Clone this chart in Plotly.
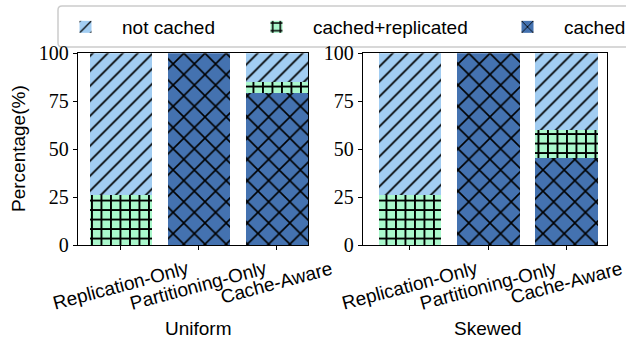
import plotly.graph_objects as go

# Share of data per strategy, stacked bottom -> top: cached, cached+replicated, not cached
categories = ["Replication-Only", "Partitioning-Only", "Cache-Aware"]
positions = [0, 1, 2]
uniform_cached = [0, 100, 79]
uniform_replicated = [26, 0, 6]
uniform_not_cached = [74, 0, 15]
skewed_cached = [0, 100, 45]
skewed_replicated = [26, 0, 15]
skewed_not_cached = [74, 0, 40]
y_ticks = [0, 25, 50, 75, 100]
panel_titles = ["Uniform", "Skewed"]

C_NOT = "#a2cdf2"
C_REP = "#aaf8cc"
C_CACHED = "#4472b0"
SERIF = "Liberation Serif"
SANS = "Liberation Sans"
W, H = 626, 344

styles = {
    "cached": dict(color=C_CACHED, shape="x", size=15, solidity=0.2),
    "cached+replicated": dict(color=C_REP, shape="+", size=9.5, solidity=0.36),
    "not cached": dict(color=C_NOT, shape="/", size=10.6, solidity=0.16),
}
# each series gets its own legend so the entries can be spaced freely
legend_of = {"not cached": "legend", "cached+replicated": "legend2", "cached": "legend3"}
legend_text_x = {"legend": 123, "legend2": 314, "legend3": 565}

fig = go.Figure()
panels = [
    ("x", "y", [("cached", uniform_cached), ("cached+replicated", uniform_replicated), ("not cached", uniform_not_cached)]),
    ("x2", "y2", [("cached", skewed_cached), ("cached+replicated", skewed_replicated), ("not cached", skewed_not_cached)]),
]
for pi, (xa, ya, series) in enumerate(panels):
    for name, vals in series:
        s = styles[name]
        fig.add_trace(go.Bar(
            x=positions, y=vals, name=name, xaxis=xa, yaxis=ya, width=0.8,
            showlegend=(pi == 0), legend=legend_of[name],
            marker=dict(
                color=s["color"], line=dict(width=0),
                pattern=dict(shape=s["shape"], size=s["size"], solidity=s["solidity"],
                             fgcolor="black", bgcolor=s["color"], fgopacity=1),
            ),
        ))

y_dom = [1 - 245 / H, 1 - 53.3 / H]
axis_common = dict(showline=True, linecolor="black", linewidth=1, mirror=True,
                   ticks="outside", ticklen=4, tickcolor="black", showgrid=False, zeroline=False)

ITEM_W = 63
legend_common = dict(orientation="h", xref="container", yref="container", y=1 - 8 / H,
                     xanchor="left", yanchor="top", borderwidth=0, bgcolor="rgba(0,0,0,0)",
                     font=dict(family=SANS, size=19, color="black"), itemwidth=ITEM_W)
legends = {key: dict(x=(tx - ITEM_W - 11) / W, **legend_common) for key, tx in legend_text_x.items()}

fig.update_layout(
    width=W, height=H, margin=dict(l=0, r=0, t=0, b=0, autoexpand=False),
    plot_bgcolor="white", paper_bgcolor="white", barmode="stack", bargap=0,
    xaxis=dict(domain=[77.7 / W, 308 / W], range=[-0.55, 2.4], tickvals=positions,
               showticklabels=False, **axis_common),
    xaxis2=dict(domain=[362.7 / W, 607.3 / W], range=[-0.6, 2.52], tickvals=positions,
                showticklabels=False, anchor="y2", **axis_common),
    yaxis=dict(domain=y_dom, range=[0, 100], tickvals=y_ticks,
               tickfont=dict(family=SERIF, size=20, color="black"), **axis_common),
    yaxis2=dict(domain=y_dom, range=[0, 100], tickvals=y_ticks, anchor="x2",
                tickfont=dict(family=SERIF, size=20, color="black"), **axis_common),
    legend=legends["legend"], legend2=legends["legend2"], legend3=legends["legend3"],
)

# rounded frame around the legend row
x0, x1 = 58 / W, 640 / W
y0, y1 = 1 - 47 / H, 1 - 6 / H
rx, ry = 4 / W, 4 / H
frame = (f"M{x0 + rx},{y1} L{x1 - rx},{y1} Q{x1},{y1} {x1},{y1 - ry} L{x1},{y0 + ry} "
         f"Q{x1},{y0} {x1 - rx},{y0} L{x0 + rx},{y0} Q{x0},{y0} {x0},{y0 + ry} "
         f"L{x0},{y1 - ry} Q{x0},{y1} {x0 + rx},{y1} Z")
fig.add_shape(type="path", path=frame, xref="paper", yref="paper",
              line=dict(color="#cccccc", width=1.5), fillcolor="white", layer="below")

annotations = []
for xa, title in zip(["x", "x2"], panel_titles):
    for pos, cat in zip(positions, categories):
        annotations.append(dict(xref=xa, yref="paper", x=pos, y=1 - 255 / H, text=cat,
                                textangle=-15, showarrow=False, xanchor="center", yanchor="top",
                                font=dict(family=SANS, size=19, color="black")))
    annotations.append(dict(xref=xa, yref="paper", x=1, y=1 - 328 / H, text=title,
                            showarrow=False, xanchor="center", yanchor="middle",
                            font=dict(family=SANS, size=19, color="black")))
annotations.append(dict(xref="paper", yref="paper", x=18 / W, y=1 - 149 / H, text="Percentage(%)",
                        textangle=-90, showarrow=False, xanchor="center", yanchor="middle",
                        font=dict(family=SANS, size=19, color="black")))
fig.update_layout(annotations=annotations)

fig.write_html("out.html")
